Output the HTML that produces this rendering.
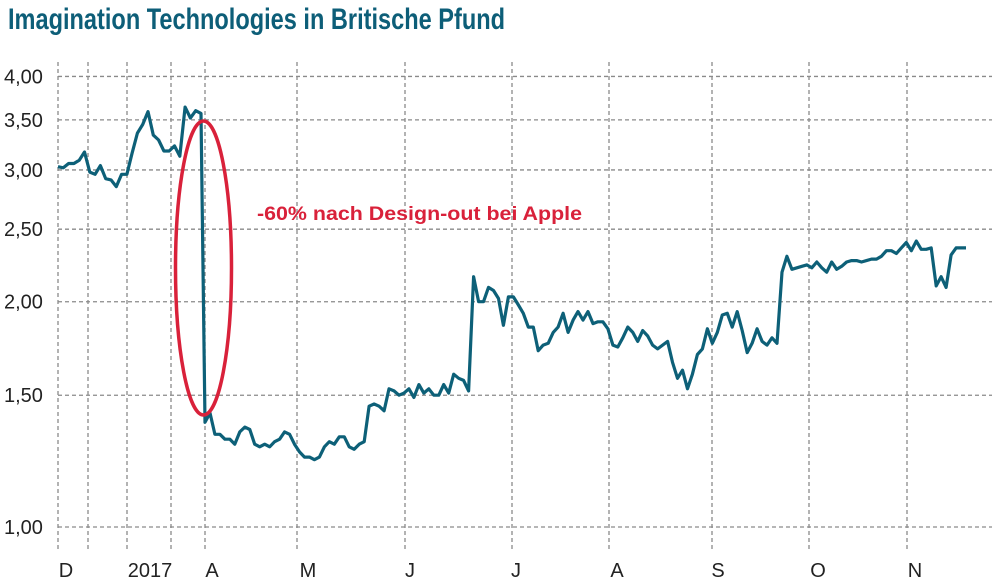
<!DOCTYPE html>
<html><head><meta charset="utf-8"><style>
html,body{margin:0;padding:0;background:#fff;}
svg{display:block;font-family:"Liberation Sans",sans-serif;}
</style></head><body>
<svg id="chart" width="1000" height="582" viewBox="0 0 1000 582" xmlns="http://www.w3.org/2000/svg">
<text x="8" y="29" font-size="30" font-weight="bold" fill="#0d5e78" textLength="497" lengthAdjust="spacingAndGlyphs">Imagination Technologies in Britische Pfund</text>
<g id="grid"></g>
<g id="axes"></g>
<path id="line" fill="none" stroke="#0d6078" stroke-width="3.2" stroke-linejoin="round"/>
<ellipse cx="203.5" cy="268" rx="28" ry="147" fill="none" stroke="#d9213a" stroke-width="3.5"/>
<text x="257" y="220" font-size="19" font-weight="bold" fill="#d9213a" textLength="325" lengthAdjust="spacingAndGlyphs">-60% nach Design-out bei Apple</text>
</svg>
<script>
const yTicks = [1.00, 1.50, 2.00, 2.50, 3.00, 3.50, 4.00];
const yTickLabels = ["1,00", "1,50", "2,00", "2,50", "3,00", "3,50", "4,00"];
const monthLabels = ["D", "2017", "A", "M", "J", "J", "A", "S", "O", "N"];
const monthLabelPos = [66, 150, 212, 308, 410, 516, 617, 718, 818, 915];
const gridX = [58, 88, 127, 171, 205, 297, 405, 512, 609, 712, 809, 907];
const prices = [3.03,3.02,3.06,3.06,3.09,3.17,2.98,2.96,3.04,2.92,2.91,2.85,2.96,2.96,3.16,3.36,3.45,3.59,3.34,3.29,3.18,3.18,3.23,3.13,3.64,3.52,3.60,3.57,
1.38,1.42,1.33,1.33,1.31,1.31,1.29,1.34,1.36,1.35,1.29,1.28,1.29,1.28,1.30,1.31,1.34,1.33,1.29,1.26,1.24,1.24,1.23,1.24,1.28,1.30,1.29,1.32,1.32,1.28,1.27,1.29,1.30,1.45,1.46,1.45,1.43,1.53,1.52,1.50,1.51,1.53,1.49,1.55,1.51,1.53,1.50,1.50,1.55,1.51,1.60,1.58,1.57,1.52,2.16,2.00,2.00,2.09,
2.07,2.02,1.86,2.03,2.03,1.98,1.93,1.85,1.85,1.72,1.75,1.76,1.82,1.85,1.93,1.82,1.89,1.94,1.89,1.94,1.87,1.88,1.88,1.84,1.75,1.74,1.79,1.85,1.82,1.77,1.83,1.80,1.75,1.73,1.75,1.77,1.66,1.58,1.62,1.53,1.60,1.70,1.73,1.84,1.76,1.82,1.92,1.93,1.85,1.94,1.83,1.71,1.76,1.84,1.77,1.75,1.79,1.76,2.19,2.30,2.21,2.22,2.23,2.24,2.22,2.26,2.22,2.19,2.26,2.21,2.23,2.26,2.27,2.27,2.26,2.27,2.28,2.28,2.30,2.34,2.34,2.32,2.36,2.40,2.34,2.41,2.35,2.35,2.36,2.10,2.16,2.09,2.31,2.36,2.36,2.36];
const dropIndex = 28;

const NS = "http://www.w3.org/2000/svg";
const X0 = 58, XD0 = 201, XD1 = 205, X1 = 966, XR = 992;
function yScale(v){ return 527 - Math.log(v) * 325; }
function xScale(i){
  if (i < dropIndex) return X0 + i * (XD0 - X0) / (dropIndex - 1);
  return XD1 + (i - dropIndex) * (X1 - XD1) / (prices.length - 1 - dropIndex);
}
const grid = document.getElementById('grid');
const axes = document.getElementById('axes');
function mk(tag, attrs, parent){ const e=document.createElementNS(NS,tag); for(const k in attrs) e.setAttribute(k,attrs[k]); parent.appendChild(e); return e; }
yTicks.forEach((t,i)=>{
  const y = yScale(t);
  const l = mk('line',{x1:X0,x2:XR,y1:y,y2:y,stroke:'#8a8a8a','stroke-width':1.3,'stroke-dasharray':'4,3'},grid);
  
  
  const tx = mk('text',{x:4,y:y+7,'font-size':20,fill:'#222'},axes);
  tx.textContent = yTickLabels[i];
  
  
});
gridX.forEach(x=>{
  const l = mk('line',{x1:x,x2:x,y1:62,y2:549,stroke:'#8a8a8a','stroke-width':1.3,'stroke-dasharray':'4,3'},grid);
  
  
});
monthLabels.forEach((m,i)=>{
  const tx = mk('text',{x:monthLabelPos[i],y:577,'font-size':20,fill:'#222','text-anchor':'middle'},axes);
  tx.textContent = m;
  
  
});
document.getElementById('line').setAttribute('d', prices.map((v,i)=>(i?'L':'M')+xScale(i).toFixed(1)+','+yScale(v).toFixed(1)).join(' '));
</script>
</body></html>
